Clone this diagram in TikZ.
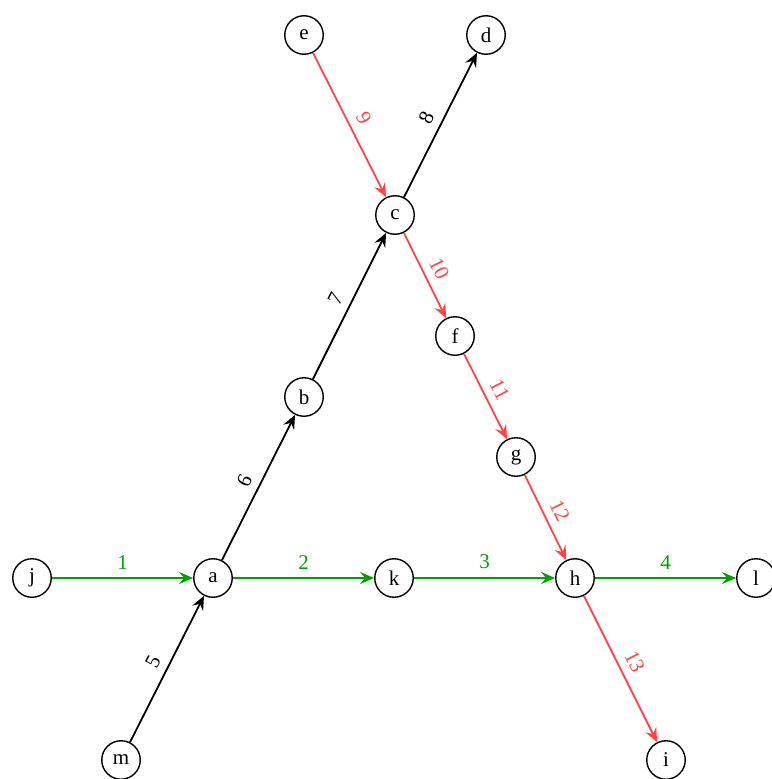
\documentclass[tikz,border=0pt]{standalone}
\usepackage{fontspec}
\setmainfont{Liberation Serif}
\usetikzlibrary{arrows.meta}
\definecolor{grn}{RGB}{0,160,0}
\definecolor{rd}{RGB}{255,68,68}
\tikzset{
  vtx/.style={draw, circle, line width=1.4pt, minimum size=38.5pt, inner sep=0pt, font=\fontsize{21}{21}\selectfont},
  edg/.style={line width=1.8pt, -{Stealth[length=14pt,width=12pt,inset=5pt]}},
  lab/.style={font=\fontsize{21}{21}\selectfont, above, sloped, inner sep=8pt},
  ge/.style={edg, grn},
  re/.style={edg, rd},
  be/.style={edg, black}
}
\begin{document}
\begin{tikzpicture}[x=1pt,y=-1pt]
\useasboundingbox (0,0) rectangle (771,779);
\node[vtx] (j) at (32,578) {j};
\node[vtx] (a) at (213,578) {a};
\node[vtx] (k) at (394,578) {k};
\node[vtx] (h) at (575,578) {h};
\node[vtx] (l) at (756,578) {l};
\node[vtx] (m) at (121,760) {m};
\node[vtx] (b) at (304,397) {b};
\node[vtx] (c) at (395,215) {c};
\node[vtx] (d) at (486,35) {d};
\node[vtx] (e) at (304,35) {e};
\node[vtx] (f) at (455,336) {f};
\node[vtx] (g) at (516,457) {g};
\node[vtx] (i) at (666,760) {i};
\draw[ge] (j) -- node[lab] {1} (a);
\draw[ge] (a) -- node[lab] {2} (k);
\draw[ge] (k) -- node[lab] {3} (h);
\draw[ge] (h) -- node[lab] {4} (l);
\draw[be] (m) -- node[lab] {5} (a);
\draw[be] (a) -- node[lab] {6} (b);
\draw[be] (b) -- node[lab] {7} (c);
\draw[be] (c) -- node[lab] {8} (d);
\draw[re] (e) -- node[lab] {9} (c);
\draw[re] (c) -- node[lab] {10} (f);
\draw[re] (f) -- node[lab] {11} (g);
\draw[re] (g) -- node[lab] {12} (h);
\draw[re] (h) -- node[lab] {13} (i);
\end{tikzpicture}
\end{document}
